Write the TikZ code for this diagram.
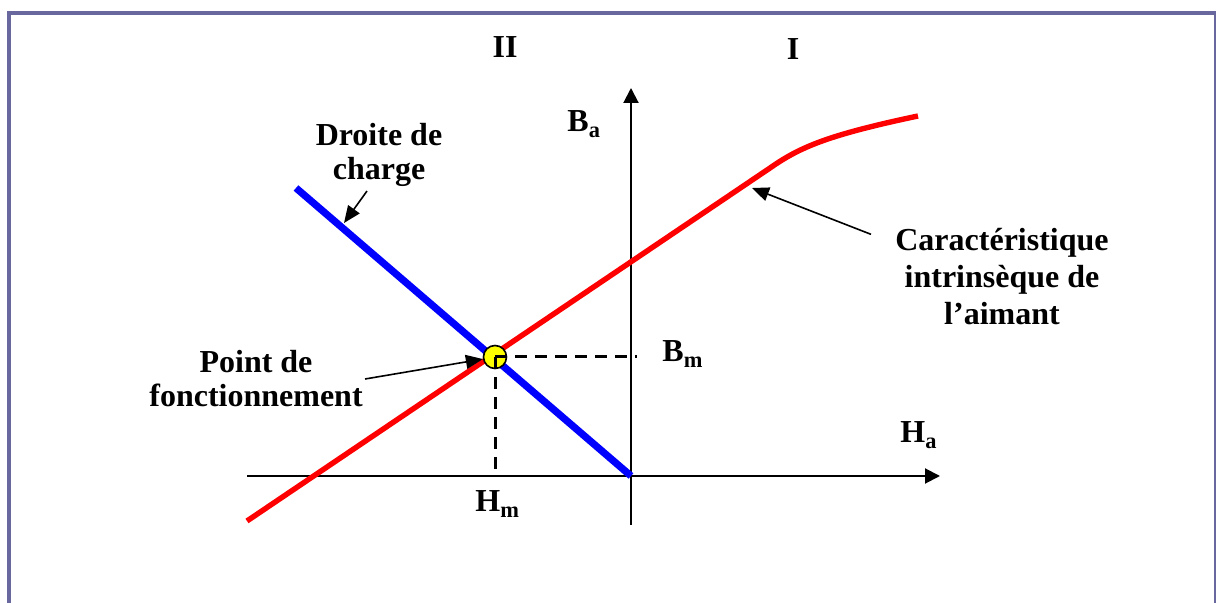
\documentclass[tikz,border=0pt]{standalone}
\usepackage{fontspec}
\setmainfont{Liberation Serif}
\usepackage{tikz}
\usetikzlibrary{arrows.meta,positioning,calc}
\definecolor{framecol}{RGB}{104,104,158}
\definecolor{curvecol}{RGB}{255,0,0}
\definecolor{loadcol}{RGB}{0,0,255}
\definecolor{ptcol}{RGB}{255,255,0}
\tikzset{
  lbl/.style     ={font=\fontsize{16}{17}\selectfont\bfseries, align=center, inner sep=0pt},
  axis/.style    ={line width=1pt, -{Triangle[length=7.5pt,width=7.5pt]}},
  ptr/.style     ={line width=0.8pt, -{Triangle[length=8.5pt,width=7pt]}},
  guide/.style   ={line width=1.5pt, dash pattern=on 6pt off 4pt},
  intrinsic/.style={curvecol, line width=2.7pt},
  loadline/.style={loadcol, line width=3.6pt},
}

\begin{document}
\begin{tikzpicture}[x=0.5pt, y=-0.5pt]
    \useasboundingbox (0,0) rectangle (1216,603);
    % frame
    \draw[framecol, line width=2pt] (9,13) rectangle (1216,660);

    % axes
    \coordinate (orig) at (631,476);
    \draw[axis] (247,476) -- (940,476);
    \draw[axis] (631,525) -- (631,88);

    % characteristic and load line
    \draw[intrinsic] (247,521) -- (770,168)
        .. controls (800,147) and (828,135) .. (918,116);
    \draw[loadline] (296,188) -- (orig);

    % operating point with guides
    \node[circle, draw=black, line width=0.8pt, fill=ptcol, minimum size=11.5pt,
          inner sep=0pt] (op) at (495,357) {};
    \draw[guide] (op.center) -- (637,357);
    \draw[guide] (op.center) -- (495,476);

    % quadrants and axis names
    \node[lbl] (q2) at (505,47) {II};
    \node[lbl] (q1) at (793,49) {I};
    \node[lbl, anchor=base west] (ba) at (567,132) {B\textsubscript{a}};
    \node[lbl, anchor=base west] (ha) at (900,443) {H\textsubscript{a}};
    \node[lbl, anchor=base west] (bm) at (662,362) {B\textsubscript{m}};
    \node[lbl, anchor=base west] (hm) at (475,512) {H\textsubscript{m}};

    % pointed labels
    \node[lbl] (dc) at (379,155) {Droite de\\charge};
    \node[lbl] (pf) at (256,379) {Point de\\fonctionnement};
    \node[lbl, font=\fontsize{16}{18.5}\selectfont\bfseries] (ci) at (1002,277)
        {Caractéristique\\intrinsèque de\\l’aimant};
    \coordinate (dcTip) at (344,223);
    \coordinate (ciTip) at (752,188);
    \draw[ptr] ([xshift=-6pt,yshift=-2pt]dc.south) -- (dcTip);
    \draw[ptr] ([xshift=1pt]pf.east) -- (op);
    \draw[ptr] ([shift={(-12pt,-3pt)}]ci.north west) -- (ciTip);
\end{tikzpicture}
\end{document}
